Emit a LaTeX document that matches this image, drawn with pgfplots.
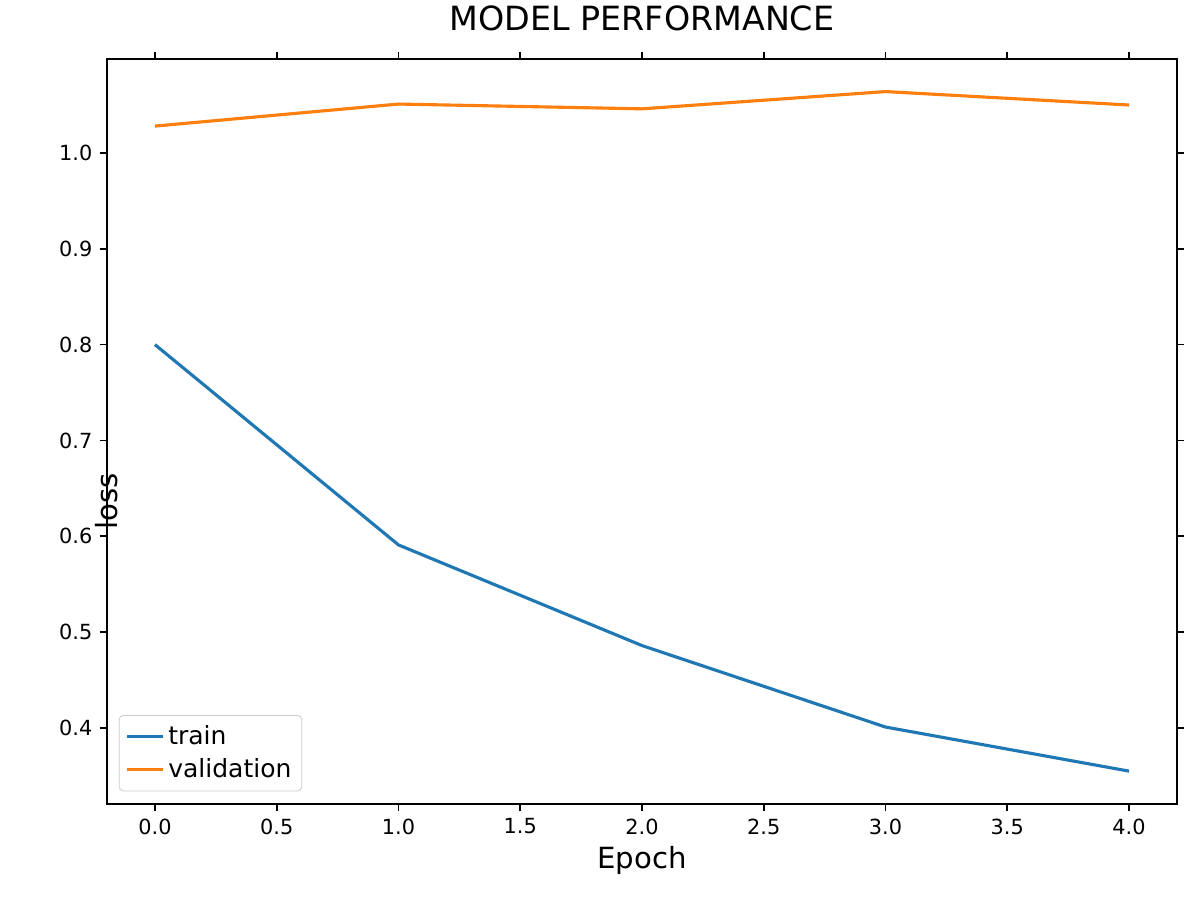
\documentclass[border=0pt]{standalone}
\usepackage{pgfplots}
\pgfplotsset{compat=1.18}
\usepackage{fontspec}
\setmainfont{DejaVu Sans}
\definecolor{tblue}{HTML}{1F77B4}
\definecolor{torange}{HTML}{FF7F0E}
\begin{document}
\begin{tikzpicture}
\path[use as bounding box] (0,0) rectangle (576pt,432pt);
\begin{axis}[at={(51.36pt,46.08pt)}, anchor=south west,
  scale only axis, width=513.6pt, height=357.6pt,
  xmin=-0.197, xmax=4.197, ymin=0.3207, ymax=1.098,
  xtick={0,0.5,...,4}, ytick={0.4,0.5,...,1.0},
  /pgf/number format/assume math mode=true,
  xticklabel style={/pgf/number format/.cd,fixed,precision=1,zerofill},
  yticklabel style={/pgf/number format/.cd,fixed,precision=1,zerofill},
  ticklabel style={font=\fontsize{10}{12}\selectfont},
  tick align=outside, major tick length=3.5pt, tick style={black, line width=0.8pt},
  axis line style={line width=0.8pt},
  title={MODEL PERFORMANCE}, title style={font=\fontsize{16}{19}\selectfont, at={(0.5,1)}, anchor=south, yshift=4pt},
  xlabel={Epoch}, ylabel={loss},
  xlabel style={font=\fontsize{14}{17}\selectfont, at={(0.5,0)}, anchor=center, yshift=-27pt},
  ylabel style={font=\fontsize{14}{17}\selectfont, at={(0,0.5)}, anchor=center, xshift=-33.6pt, rotate=0},
  legend style={at={(0.011,0.017)}, anchor=south west, font=\fontsize{12}{14}\selectfont, draw=gray!40, rounded corners=2pt, inner sep=3pt, row sep=1pt},
  legend cell align=left,
]
\addplot[tblue, line width=1.5pt] coordinates {(0,0.800) (1,0.591) (2,0.486) (3,0.401) (4,0.355)};
\addlegendentry{train}
\addplot[torange, line width=1.5pt] coordinates {(0,1.028) (1,1.051) (2,1.046) (3,1.064) (4,1.050)};
\addlegendentry{validation}
\end{axis}
\end{tikzpicture}
\end{document}
